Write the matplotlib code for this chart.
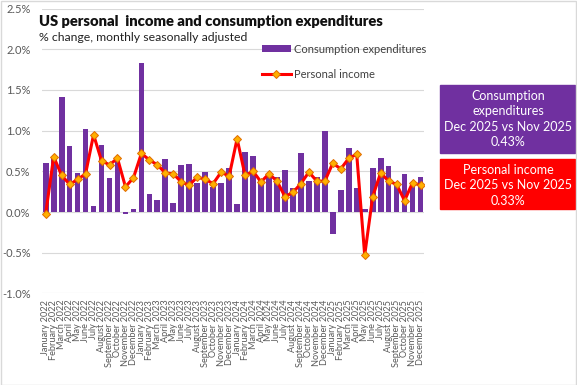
import numpy as np
import matplotlib.pyplot as plt
from matplotlib.patches import Rectangle

plt.rcParams["font.family"] = ["Lato", "DejaVu Sans"]

months = ["January", "February", "March", "April", "May", "June", "July",
          "August", "September", "October", "November", "December"]
years = [2022, 2023, 2024, 2025]
labels = [f"{m} {y}" for y in years for m in months]

# consumption expenditures, % m/m
consumption = [0.60, 0.66, 1.41, 0.81, 0.48, 1.02, 0.08, 0.82, 0.42, 0.64, -0.02, 0.04,
               1.83, 0.22, 0.15, 0.65, 0.11, 0.58, 0.59, 0.36, 0.49, 0.31, 0.36, 0.54,
               0.10, 0.74, 0.69, 0.40, 0.47, 0.43, 0.52, 0.30, 0.72, 0.38, 0.43, 0.99,
               -0.27, 0.27, 0.79, 0.30, 0.04, 0.54, 0.67, 0.56, 0.37, 0.47, 0.37, 0.43]

# personal income, % m/m
income = [-0.02, 0.68, 0.45, 0.34, 0.40, 0.47, 0.95, 0.63, 0.58, 0.66, 0.31, 0.42,
          0.72, 0.64, 0.58, 0.48, 0.47, 0.37, 0.33, 0.43, 0.40, 0.35, 0.49, 0.44,
          0.90, 0.45, 0.50, 0.37, 0.47, 0.38, 0.19, 0.24, 0.35, 0.49, 0.38, 0.38,
          0.60, 0.53, 0.66, 0.71, -0.53, 0.19, 0.48, 0.38, 0.34, 0.14, 0.36, 0.33]

yticks = [-1.0, -0.5, 0.0, 0.5, 1.0, 1.5, 2.0, 2.5]

purple = "#7030A0"
red = "#FF0000"
grey = "#595959"

fig = plt.figure(figsize=(5.77, 3.85), dpi=100)
ax = fig.add_axes([0.0723, 0.2379, 0.6634, 0.7398])

x = np.arange(len(labels))
bars = ax.bar(x, consumption, width=0.72, color=purple, zorder=2,
              label="Consumption expenditures")
line, = ax.plot(x, income, color=red, lw=2.2, marker="D", ms=4.5,
                markerfacecolor="#FFB000", markeredgecolor="#E06C00",
                markeredgewidth=0.7, zorder=3, label="Personal income")

ax.set_xlim(-0.5, len(labels) - 0.5)
ax.set_ylim(-1.0, 2.5)
ax.set_yticks(yticks)
ax.set_yticklabels([f"{v:.1f}%" for v in yticks], fontsize=8, color=grey)
ax.set_xticks(x)
ax.set_xticklabels(labels, rotation=90, fontsize=6.6, color=grey)
ax.tick_params(axis="both", length=0)
ax.tick_params(axis="x", pad=4.5)
ax.tick_params(axis="y", pad=8)
ax.grid(axis="y", color="#D9D9D9", lw=0.8, zorder=0)
for s in ax.spines.values():
    s.set_visible(False)

fig.text(0.068, 0.944, "US personal  income and consumption expenditures",
         fontsize=10.6, fontweight="heavy", color="#111111", va="center")
fig.text(0.068, 0.903, "% change, monthly seasonally adjusted",
         fontsize=8.8, color="#222222", va="center")

ax.legend([bars, line], ["Consumption expenditures", "Personal income"],
          loc="upper left", bbox_to_anchor=(0.454, 0.887),
          bbox_transform=fig.transFigure, frameon=False, fontsize=8,
          handlelength=2.6, handleheight=0.5, handletextpad=0.25,
          labelspacing=1.3, borderpad=0, borderaxespad=0, labelcolor="#404040")

# summary boxes on the right
fig.patches.append(Rectangle((440 / 577, 1 - 153 / 385), 135 / 577, 68 / 385,
                             transform=fig.transFigure, color=purple))
fig.text(508 / 577, 1 - 119 / 385,
         "Consumption\nexpenditures\nDec 2025 vs Nov 2025\n0.43%",
         ha="center", va="center", fontsize=9, color="white", linespacing=1.35)
fig.patches.append(Rectangle((440 / 577, 1 - 209 / 385), 135 / 577, 50 / 385,
                             transform=fig.transFigure, color=red))
fig.text(508 / 577, 1 - 185 / 385,
         "Personal income\nDec 2025 vs Nov 2025\n0.33%",
         ha="center", va="center", fontsize=9, color="white", linespacing=1.35)

# light border round the chart
fig.patches.append(Rectangle((0.001, 0.001), 0.997, 0.997, transform=fig.transFigure,
                             fill=False, edgecolor="#D9D9D9", lw=1))

fig.savefig("out.png", dpi=100)
